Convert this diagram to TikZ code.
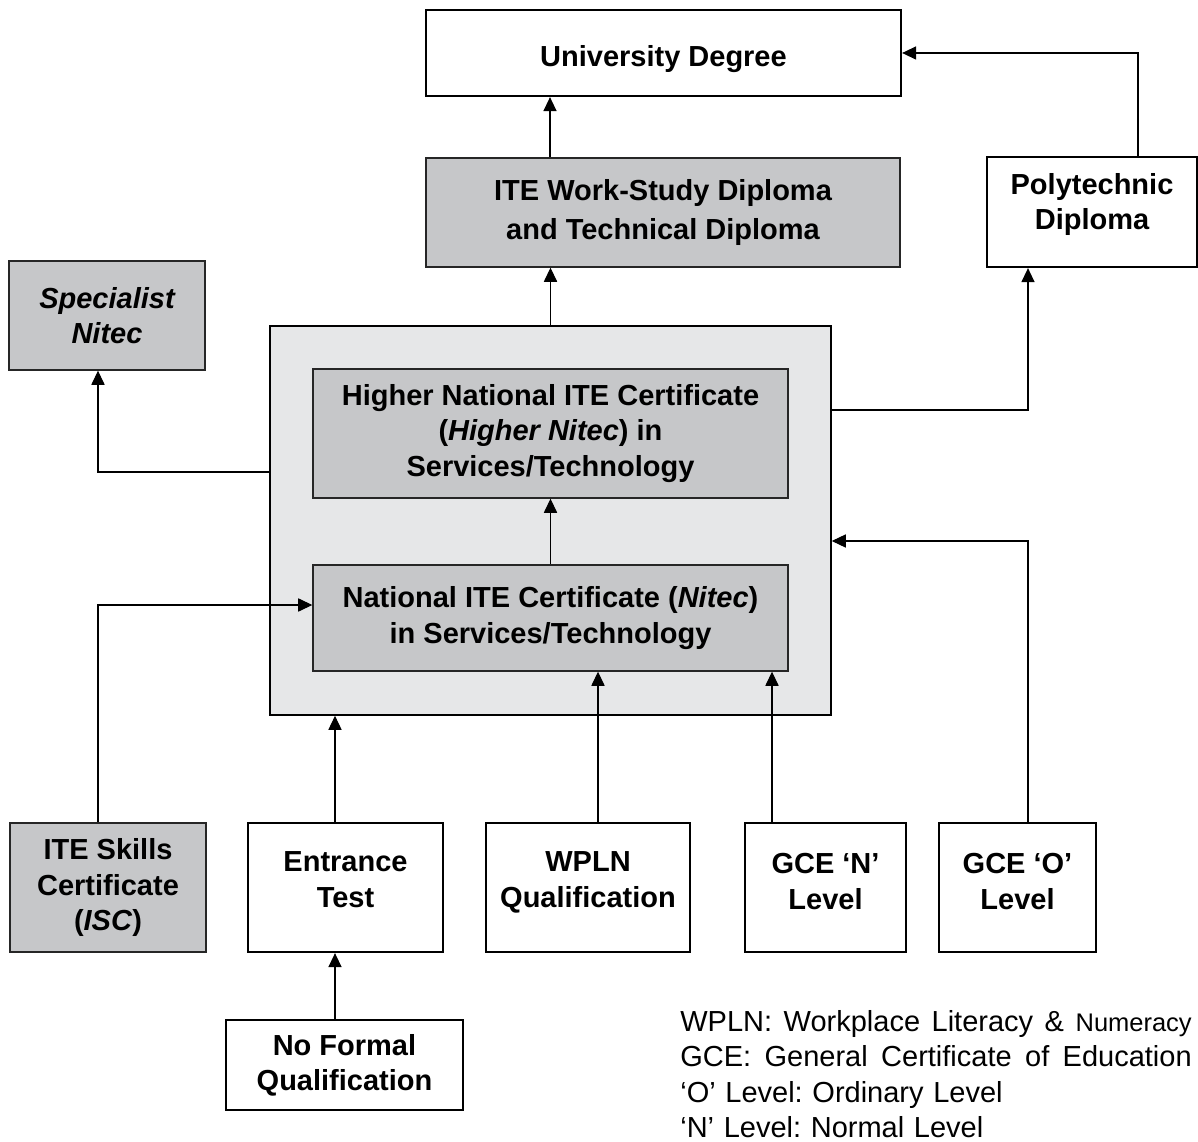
\documentclass[tikz,border=0pt]{standalone}
\usepackage{fontspec}
\setmainfont{Liberation Sans}
\usetikzlibrary{arrows.meta}
\definecolor{boxgray}{RGB}{198,199,201}
\definecolor{panelgray}{RGB}{230,231,232}
\newcommand\keygap{\hfil\ }
\frenchspacing
\begin{document}
\begin{tikzpicture}[x=0.2mm,y=-0.2mm,
  plain/.style={draw,line width=1.3pt,fill=white,align=center,inner sep=0pt,
    font=\fontsize{16.5}{20}\selectfont\bfseries},
  shaded/.style={plain,line width=0.8pt,draw=black!85,fill=boxgray},
  arr/.style={line width=0.6pt,-{Triangle[width=7.5pt,length=8pt]}}]
\useasboundingbox (0,0) rectangle (1198,1142);

% top row
\node[plain,minimum width=95mm,minimum height=17.2mm,text height=15pt,text depth=0pt] (ud) at (663.5,53) {University Degree};
\node[shaded,minimum width=94.8mm,minimum height=21.8mm,font=\fontsize{16.5}{22}\selectfont\bfseries] (wsd) at (663,212.5) {ITE Work-Study Diploma\\and Technical Diploma};
\node[plain,minimum width=42mm,minimum height=22mm,text depth=12pt] (poly) at (1092,212) {Polytechnic\\Diploma};
\node[shaded,minimum width=39.2mm,minimum height=21.8mm] (spec) at (107,315.5) {\itshape Specialist\\\itshape Nitec};

% ITE panel
\node[draw,line width=0.9pt,fill=panelgray,minimum width=112.2mm,minimum height=77.8mm] (ite) at (550.5,520.5) {};
\node[shaded,minimum width=95mm,minimum height=25.8mm] (hn) at (550.5,433.5) {Higher National ITE Certificate\\(\textit{Higher Nitec}) in\\Services/Technology};
\node[shaded,minimum width=95mm,minimum height=21.2mm] (nitec) at (550.5,618) {National ITE Certificate (\textit{Nitec})\\in Services/Technology};

% entry routes
\node[shaded,minimum width=39.2mm,minimum height=25.8mm] (isc) at (108,887.5) {ITE Skills\\Certificate\\(\textit{ISC})};
\node[plain,minimum width=39mm,minimum height=25.8mm,text depth=9pt] (ent) at (345.5,887.5) {Entrance\\Test};
\node[plain,minimum width=40.8mm,minimum height=25.8mm,text depth=9pt] (wpln) at (588,887.5) {WPLN\\Qualification};
\node[plain,minimum width=32.2mm,minimum height=25.8mm,text depth=7pt] (gcen) at (825.5,887.5) {GCE `N'\\Level};
\node[plain,minimum width=31.4mm,minimum height=25.8mm,text depth=7pt] (gceo) at (1017.5,887.5) {GCE `O'\\Level};
\node[plain,minimum width=47.4mm,minimum height=18mm] (nfq) at (344.5,1065) {No Formal\\Qualification};

\node[anchor=north west,inner sep=0pt,text width=291pt,align=left,
  font=\fontsize{16.5}{20.2}\selectfont] (key) at (680,1010)
  {\leavevmode\hbox to 291pt{WPLN:\keygap Workplace\keygap Literacy\keygap \&\keygap {\fontsize{14.5}{20.2}\selectfont Numeracy}}\\
   \leavevmode\hbox to 291pt{GCE:\keygap General\keygap Certificate\keygap of\keygap Education}\\
   `O' Level: Ordinary Level\\
   `N' Level: Normal Level};

% connectors
\draw[arr] (wsd.north -| 550,0) -- (ud.south -| 550,0);
\draw[arr] (ite.north) -- (wsd.south -| ite.north);
\draw[arr] (poly.north -| 1138,0) |- (ud.east);
\draw[arr] (ite.east |- 0,410) -| (poly.south -| 1028,0);
\draw[arr] (ite.west |- 0,472) -| (spec.south -| 98,0);
\draw[arr] (nitec.north) -- (hn.south);
\draw[arr] (isc.north -| 98,0) |- (nitec.west |- 0,605);
\draw[arr] (ent.north -| 335,0) -- (ite.south -| 335,0);
\foreach \n/\x in {wpln/598,gcen/772}
  \draw[arr] (\n.north -| \x,0) -- (nitec.south -| \x,0);
\draw[arr] (gceo.north -| 1028,0) |- (ite.east |- 0,541);
\draw[arr] (nfq.north -| 335,0) -- (ent.south -| 335,0);
\end{tikzpicture}
\end{document}
